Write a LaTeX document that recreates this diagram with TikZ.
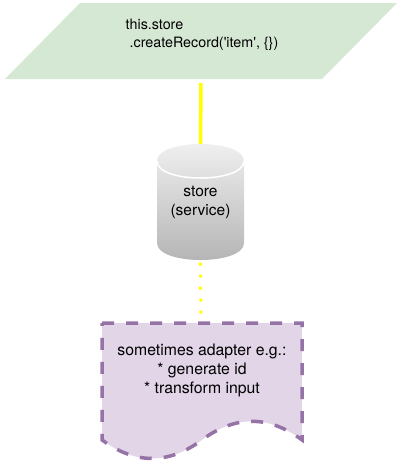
\documentclass[tikz,border=0pt]{standalone}
\usepackage{fontspec}
\setmainfont{TeX Gyre Heros}
\usepackage{tikz}
\usetikzlibrary{positioning, calc}
\definecolor{recordfill}{HTML}{D5E8D4}
\definecolor{docfill}{HTML}{E1D5E7}
\definecolor{docline}{HTML}{9673A6}
\definecolor{callline}{HTML}{FFFF00}

\begin{document}
\begin{tikzpicture}[x=1pt, y=-1pt,
    label/.style={inner sep=0pt, align=center},
    callflow/.style={callline, line width=3.5pt},
    maybeflow/.style={callline, line width=3pt, dash pattern=on 3pt off 9pt}]
  \useasboundingbox (0,0) rectangle (403,464);
  % createRecord call
  \fill[recordfill] (80,3) -- (397,3) -- (322,79) -- (5,79) -- cycle;
  \node[label, align=left, font=\fontsize{14.3}{18}\selectfont] (record) at (202,35)
    {this.store\\~.createRecord(\textquotesingle item\textquotesingle, \{\})};
  \coordinate (recordfoot) at (201,83);
  % store service cylinder
  \shade[top color=black!5, bottom color=black!30]
    (157,161) .. controls (157,138.33) and (244,138.33) .. (244,161)
    -- (244,243) .. controls (244,265.67) and (157,265.67) .. (157,243) -- cycle;
  \draw[white, line width=1.5pt] (157,161) .. controls (157,183.67) and (244,183.67) .. (244,161);
  \node[label, minimum width=87pt, minimum height=116pt,
    font=\fontsize{15.5}{19}\selectfont] (store) at (200.5,202) {store\\(service)};
  % adapter document
  \draw[docline, fill=docfill, line width=3.5pt, dash pattern=on 12pt off 12pt]
    (102,323) -- (302,323) -- (302,439.9)
    .. controls (268.67,415.13) and (235.33,415.13) .. (202,439.9)
    .. controls (168.67,464.63) and (135.33,464.63) .. (102,439.9) -- cycle;
  \node[label, font=\fontsize{15.8}{19}\selectfont] (adapter) at (202,370)
    {sometimes adapter e.g.:\\* generate id\\* transform input};
  \coordinate (doctop) at (201,318);
  % connectors
  \draw[callflow] (recordfoot) -- (store.north);
  \draw[maybeflow] ([yshift=-2.5pt]store.south) -- (doctop);
\end{tikzpicture}
\end{document}
